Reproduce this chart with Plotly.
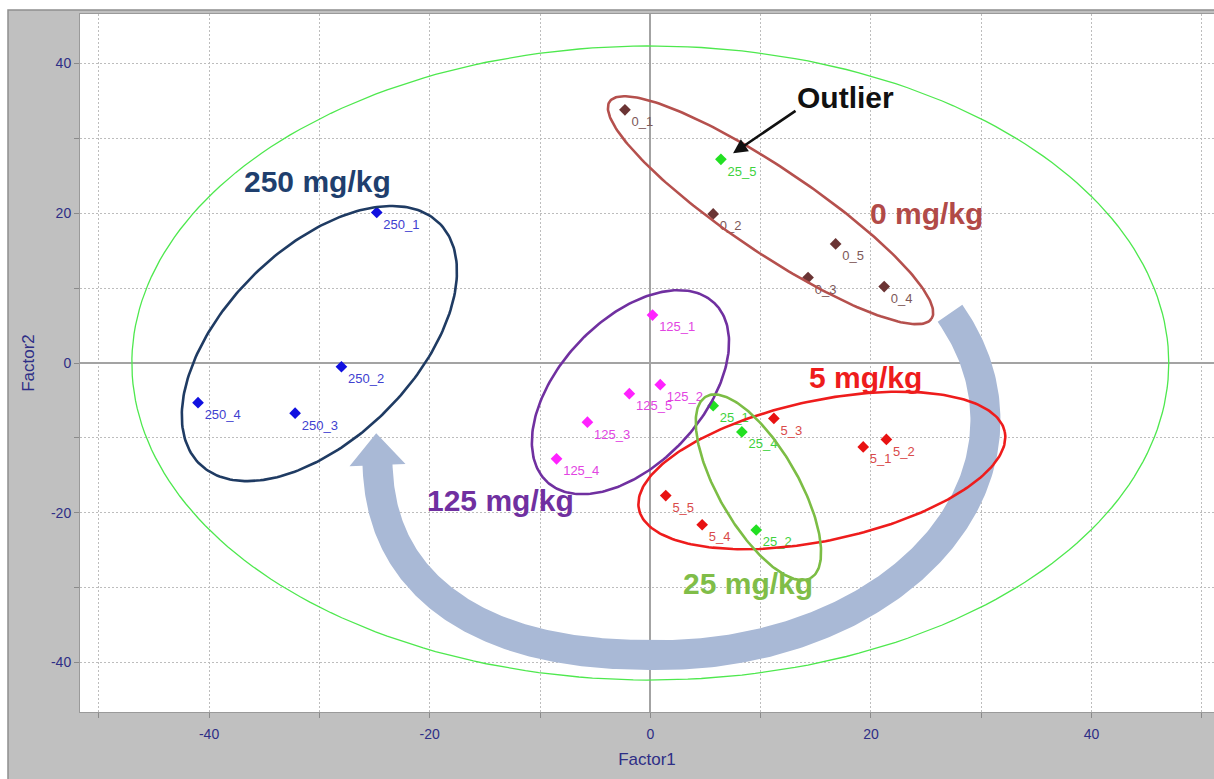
import numpy as np
import plotly.graph_objects as go

# ---------------- sample scores (Factor1, Factor2) ----------------
labels_0 = ["0_1", "0_2", "0_3", "0_4", "0_5"]
f1_0 = [-2.3, 5.7, 14.3, 21.2, 16.8]
f2_0 = [33.8, 19.9, 11.4, 10.2, 15.9]

labels_5 = ["5_1", "5_2", "5_3", "5_4", "5_5"]
f1_5 = [19.3, 21.4, 11.2, 4.7, 1.4]
f2_5 = [-11.2, -10.2, -7.4, -21.6, -17.7]

labels_25 = ["25_1", "25_4", "25_2", "25_5"]
f1_25 = [5.7, 8.3, 9.6, 6.4]
f2_25 = [-5.7, -9.2, -22.3, 27.2]

labels_125 = ["125_1", "125_2", "125_3", "125_4", "125_5"]
f1_125 = [0.2, 0.9, -5.7, -8.5, -1.9]
f2_125 = [6.4, -2.9, -7.9, -12.8, -4.1]

labels_250 = ["250_1", "250_2", "250_3", "250_4"]
f1_250 = [-24.8, -28.0, -32.2, -41.0]
f2_250 = [20.1, -0.5, -6.7, -5.3]

x_tick_vals = [-50, -40, -30, -20, -10, 0, 10, 20, 30, 40, 50]
x_tick_text = ["", "-40", "", "-20", "", "0", "", "20", "", "40", ""]
y_tick_vals = [-40, -30, -20, -10, 0, 10, 20, 30, 40]
y_tick_text = ["-40", "", "-20", "", "0", "", "20", "", "40"]

# ---------------- page geometry ----------------
W, H = 1214, 779
M_L, M_R, M_T, M_B = 80, 0, 14, 67
X_RANGE = [-51.7, 51.1]
Y_RANGE = [-46.6, 46.6]
PLOT_W = W - M_L - M_R
PLOT_H = H - M_T - M_B
# y-units per x-unit for equal on-screen lengths
ASPECT = ((Y_RANGE[1] - Y_RANGE[0]) / PLOT_H) / ((X_RANGE[1] - X_RANGE[0]) / PLOT_W)

FONT = "Arial, Liberation Sans, sans-serif"
AXIS_TEXT = "#2e2e86"


def ellipse(cx, cy, a, b, ang_deg, n=240):
    """Rotated ellipse; a, b are screen lengths in x-axis units."""
    t = np.linspace(0, 2 * np.pi, n)
    th = np.radians(ang_deg)
    s = a * np.cos(t) * np.cos(th) - b * np.sin(t) * np.sin(th)
    v = a * np.cos(t) * np.sin(th) + b * np.sin(t) * np.cos(th)
    return cx + s, cy + v * ASPECT


def curved_arrow():
    """Thick curved arrow sweeping from the 0 mg/kg group round to 250 mg/kg."""
    # right half: ellipse arc, left half: super-ellipse arc (screen units)
    cxR, cyR, aR, bR = 0.91, -7.61, 29.47, 21.31
    cxL, cyL, aL, bL, nL = 0.91, -11.62, 25.66, 18.59, 2.4
    half_w, head_w, head_len = 1.36, 2.54, 2.9

    phR = np.radians(np.linspace(27, -90, 160))
    sR = cxR + aR * np.cos(phR)
    tR = cyR / ASPECT + bR * np.sin(phR)

    phL = np.radians(np.linspace(-90, -177.5, 160))[1:]
    c, s_ = np.cos(phL), np.sin(phL)
    sL = cxL + aL * np.sign(c) * np.abs(c) ** (2 / nL)
    tL = cyL / ASPECT + bL * np.sign(s_) * np.abs(s_) ** (2 / nL)

    S = np.concatenate([sR, sL])
    T = np.concatenate([tR, tL])
    dS, dT = np.gradient(S), np.gradient(T)
    norm = np.hypot(dS, dT)
    nS, nT = -dT / norm, dS / norm

    aS, aT = S + half_w * nS, T + half_w * nT
    bS, bT = S - half_w * nS, T - half_w * nT

    eS, eT = S[-1], T[-1]
    dirS, dirT = dS[-1] / norm[-1], dT[-1] / norm[-1]
    headS = [eS + head_w * nS[-1], eS + head_len * dirS, eS - head_w * nS[-1]]
    headT = [eT + head_w * nT[-1], eT + head_len * dirT, eT - head_w * nT[-1]]

    ps = np.concatenate([aS, headS, bS[::-1], aS[:1]])
    pt = np.concatenate([aT, headT, bT[::-1], aT[:1]])
    return ps, pt * ASPECT


fig = go.Figure()

# curved arrow underneath everything else
ax_, ay_ = curved_arrow()
fig.add_trace(go.Scatter(x=ax_, y=ay_, mode="lines", fill="toself",
                         fillcolor="#a9b9d6", line=dict(width=0),
                         hoverinfo="skip"))

# overall confidence ellipse
bx, by = ellipse(0.0, 0.0, 47.0, 28.74, 0)
fig.add_trace(go.Scatter(x=bx, y=by, mode="lines",
                         line=dict(color="#4ee84e", width=1.3), hoverinfo="skip"))

# sample points with labels
groups = [
    (f1_0, f2_0, labels_0, "#6b3434", "#7d5858"),
    (f1_5, f2_5, labels_5, "#e81212", "#d94a4a"),
    (f1_25, f2_25, labels_25, "#22e022", "#3ed23e"),
    (f1_125, f2_125, labels_125, "#ff22ff", "#e244e2"),
    (f1_250, f2_250, labels_250, "#1010e0", "#4040d0"),
]
for xs, ys, names, mcol, tcol in groups:
    fig.add_trace(go.Scatter(
        x=xs, y=ys, mode="markers+text", text=names,
        textposition="bottom right",
        textfont=dict(family=FONT, size=13, color=tcol),
        marker=dict(symbol="diamond", size=9, color=mcol),
        hoverinfo="skip"))

# group ellipses: centre, semi-axes (screen length in x units), angle, colour
group_ellipses = [
    (10.9, 20.4, 17.6, 3.8, -34, "#b5504d"),
    (-30.0, 2.6, 15.4, 8.6, 45, "#1f3b63"),
    (-1.8, -3.9, 11.1, 6.5, 47, "#7030a0"),
    (15.55, -14.35, 16.95, 6.35, 12, "#ee1c1c"),
    (9.8, -16.6, 9.5, 3.6, -60, "#7cbd45"),
]
for cx, cy, a, b, ang, col in group_ellipses:
    ex, ey = ellipse(cx, cy, a, b, ang)
    fig.add_trace(go.Scatter(x=ex, y=ey, mode="lines",
                             line=dict(color=col, width=2.6), hoverinfo="skip"))

# group captions
captions = [
    ("250 mg/kg", -30.2, 24.2, "#1f3f6e"),
    ("0 mg/kg", 25.0, 20.0, "#b14a48"),
    ("5 mg/kg", 19.5, -2.0, "#ee1c1c"),
    ("125 mg/kg", -13.6, -18.3, "#7030a0"),
    ("25 mg/kg", 8.9, -29.4, "#80bd48"),
    ("Outlier", 17.7, 35.5, "#111111"),
]
annotations = [
    dict(x=x, y=y, xref="x", yref="y", text=f"<b>{t}</b>", showarrow=False,
         font=dict(family=FONT, size=30, color=c), xanchor="center", yanchor="middle")
    for t, x, y, c in captions
]
annotations.append(dict(
    x=7.5, y=28.0, ax=13.3, ay=33.8, xref="x", yref="y", axref="x", ayref="y",
    text="", showarrow=True, arrowhead=2, arrowsize=1.1, arrowwidth=2.6,
    arrowcolor="#111111", standoff=0, startstandoff=0))

# grey window frame around the plot
x_frame = (8 - M_L) / PLOT_W
y_frame = (H - M_B - 10) / PLOT_H
shapes = [
    dict(type="rect", xref="paper", yref="paper", x0=-0.2, x1=x_frame,
         y0=-0.3, y1=1.3, fillcolor="white", line=dict(width=0), layer="above"),
    dict(type="rect", xref="paper", yref="paper", x0=-0.2, x1=1.3,
         y0=y_frame, y1=1.3, fillcolor="white", line=dict(width=0), layer="above"),
    dict(type="rect", xref="paper", yref="paper", x0=x_frame, x1=1.3,
         y0=-0.3, y1=y_frame, fillcolor="rgba(0,0,0,0)",
         line=dict(color="#8f8f8f", width=1.5), layer="above"),
]

axis_common = dict(
    showgrid=True, gridcolor="#bdbdbd", griddash="2px,2px", gridwidth=1,
    zeroline=True, zerolinecolor="#a3a3a3", zerolinewidth=1.5,
    showline=True, linecolor="#9a9a9a", linewidth=1, mirror=True,
    ticks="outside", tickcolor="#8a8a8a", ticklen=5,
    tickfont=dict(family=FONT, size=14, color=AXIS_TEXT),
    title_font=dict(family=FONT, size=17, color=AXIS_TEXT),
)

fig.update_layout(
    width=W, height=H,
    margin=dict(l=M_L, r=M_R, t=M_T, b=M_B, pad=0),
    paper_bgcolor="#c0c0c0", plot_bgcolor="white",
    showlegend=False, hovermode=False,
    xaxis=dict(range=X_RANGE, tickmode="array", tickvals=x_tick_vals,
               ticktext=x_tick_text, title=dict(text="Factor1", standoff=12),
               ticklabelstandoff=4, **axis_common),
    yaxis=dict(range=Y_RANGE, tickmode="array", tickvals=y_tick_vals,
               ticktext=y_tick_text, title=dict(text="Factor2", standoff=12),
               **axis_common),
    annotations=annotations,
    shapes=shapes,
)

fig.write_html("out.html")
